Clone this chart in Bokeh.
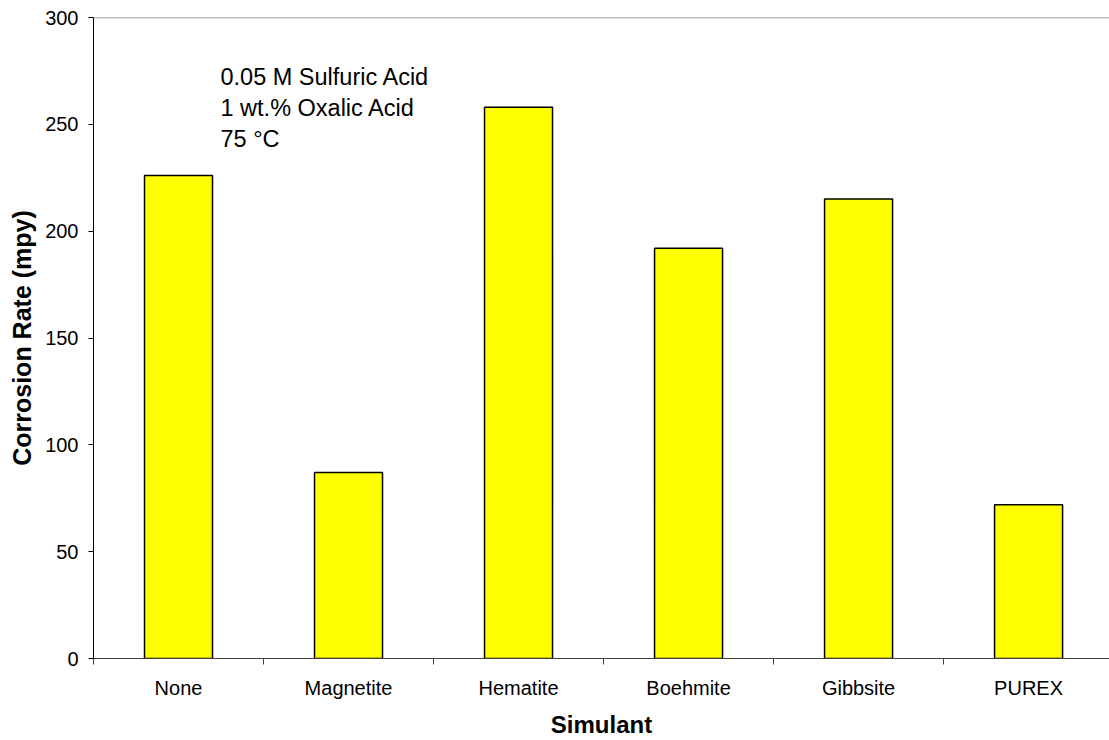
from bokeh.plotting import figure
from bokeh.models import ColumnDataSource, FixedTicker, Range1d, Label, CustomJSTickFormatter, Span
from bokeh.embed import file_html
from bokeh.resources import INLINE

# ---- data ----
simulants = ["None", "Magnetite", "Hematite", "Boehmite", "Gibbsite", "PUREX"]
corrosion_rate = [226, 87, 258, 192, 215, 72]
y_ticks = [0, 50, 100, 150, 200, 250, 300]
note_lines = ["0.05 M Sulfuric Acid", "1 wt.% Oxalic Acid", "75 \u00b0C"]

FONT = "Liberation Sans"

pos = [i + 0.5 for i in range(len(simulants))]
src = ColumnDataSource(dict(x=pos, top=corrosion_rate, name=simulants))

p = figure(width=1109, height=740, output_backend="svg", toolbar_location=None,
           x_range=Range1d(0, 5.976), y_range=Range1d(y_ticks[0], y_ticks[-1]),
           min_border_left=93, min_border_right=0, min_border_top=17,
           min_border_bottom=81)

p.vbar(x="x", top="top", width=0.4, bottom=0, source=src,
       fill_color="#FFFF00", line_color="black", line_width=1.5)

p.xgrid.visible = False
p.ygrid.visible = False
p.outline_line_color = None
p.background_fill_color = "white"
p.border_fill_color = "white"
p.add_layout(Span(location=y_ticks[-1], dimension="width", line_color="#808080", line_width=1.5))

# x axis
xa = p.xaxis[0]
xa.ticker = FixedTicker(ticks=pos, minor_ticks=list(range(len(simulants) + 1)))
xa.formatter = CustomJSTickFormatter(args=dict(names=simulants),
                                     code="const i = Math.round(tick - 0.5); return names[i] ?? '';")
xa.major_tick_out = 0
xa.major_tick_in = 0
xa.minor_tick_out = 6
xa.minor_tick_in = 0
xa.minor_tick_line_color = "#404040"
xa.axis_line_color = "#404040"
xa.major_label_text_font = FONT
xa.major_label_text_font_size = "20px"
xa.major_label_text_color = "black"
xa.major_label_standoff = 12
xa.axis_label = "Simulant"
xa.axis_label_text_font = FONT
xa.axis_label_text_font_size = "24px"
xa.axis_label_text_font_style = "bold"
xa.axis_label_text_color = "black"
xa.axis_label_standoff = 9

# y axis
ya = p.yaxis[0]
ya.ticker = FixedTicker(ticks=y_ticks, minor_ticks=[])
ya.major_tick_out = 5
ya.major_tick_in = 0
ya.major_tick_line_color = "black"
ya.axis_line_color = "black"
ya.major_label_text_font = FONT
ya.major_label_text_font_size = "20px"
ya.major_label_text_color = "black"
ya.major_label_standoff = 10
ya.axis_label = "Corrosion Rate (mpy)"
ya.axis_label_text_font = FONT
ya.axis_label_text_font_size = "25px"
ya.axis_label_text_font_style = "bold"
ya.axis_label_text_color = "black"
ya.axis_label_standoff = 6

note = Label(x=0.747, y=278.2, text="\n".join(note_lines),
             text_font=FONT, text_font_size="23.5px", text_color="black",
             text_baseline="top", text_align="left", text_line_height=1.2)
p.add_layout(note)

open("out.html", "w").write(file_html(p, INLINE))
